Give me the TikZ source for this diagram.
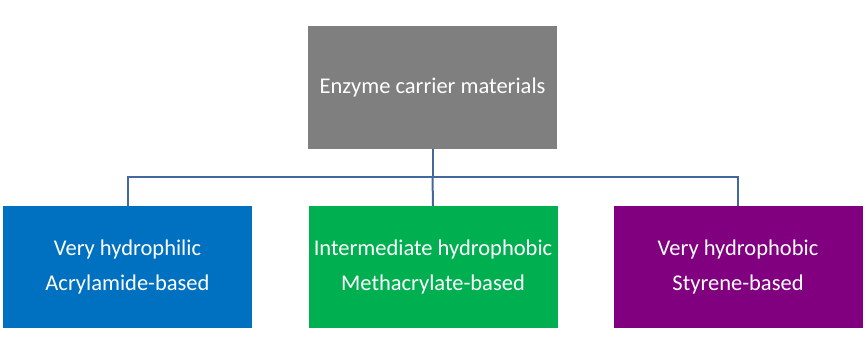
\documentclass[tikz,border=0pt]{standalone}
\usepackage{fontspec}
\setmainfont{Carlito}
\usetikzlibrary{positioning}
\definecolor{boxgray}{RGB}{127,127,127}
\definecolor{boxblue}{RGB}{0,112,192}
\definecolor{boxgreen}{RGB}{0,176,80}
\definecolor{boxpurple}{RGB}{128,0,128}
\definecolor{linkblue}{RGB}{68,104,158}
\begin{document}
\begin{tikzpicture}[x=1pt,y=-1pt,
  cat/.style={fill=#1,text=white,align=center,minimum width=249pt,minimum height=122pt,inner sep=0pt,
    font=\fontsize{22.5}{35}\selectfont},
  link/.style={draw=linkblue,line width=2pt}]
 \useasboundingbox (0,0) rectangle (866,357);
 % ---- root ----
 \node[cat=boxgray,minimum height=123pt] (ecm) at (432.5,87.5) {Enzyme carrier materials};
 % ---- children ----
 \node[cat=boxblue] (hphil) at (127.5,267) {Very hydrophilic\\Acrylamide-based};
 \node[cat=boxgreen] (inter) at (433,267) {Intermediate hydrophobic\\Methacrylate-based};
 \node[cat=boxpurple] (hphob) at (738,267) {Very hydrophobic\\Styrene-based};
 % ---- connectors ----
 \coordinate (bus) at (432.5,177);
 \draw[link] (ecm.south) -- (bus);
 \draw[link] (hphil.north) |- (bus) -| (hphob.north);
 \draw[link] (bus) -- (inter.north);
\end{tikzpicture}
\end{document}
